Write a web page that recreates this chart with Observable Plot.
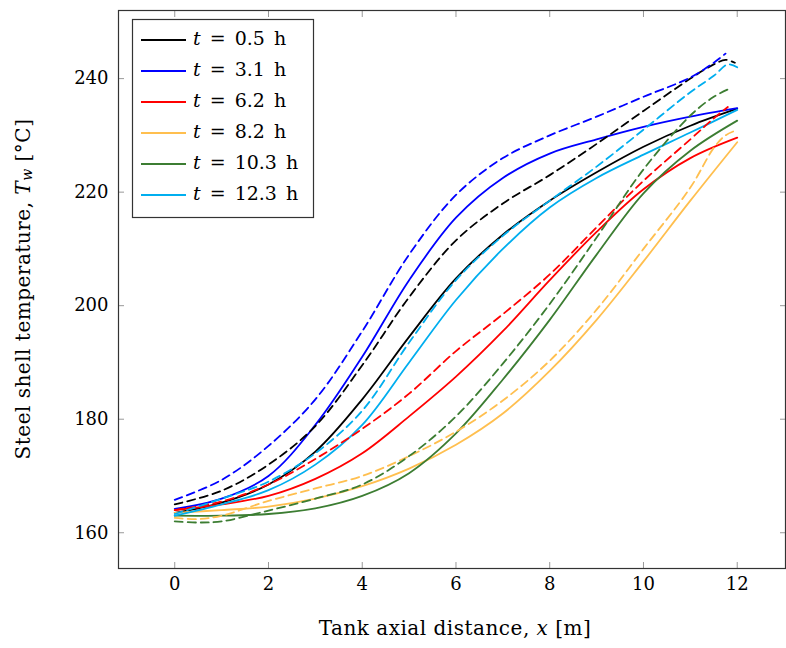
<!DOCTYPE html>
<html>
<head>
<meta charset="utf-8">
<script src="https://cdn.jsdelivr.net/npm/d3@7"></script>
<script src="https://cdn.jsdelivr.net/npm/@observablehq/plot@0.6"></script>
<style>
  html, body { margin: 0; padding: 0; background: #fff; }
  #chart { width: 786px; height: 648px; }
</style>
</head>
<body>
<div id="chart"></div>
<script>
// ---- data ----
const times = ["0.5", "3.1", "6.2", "8.2", "10.3", "12.3"];
const colors = ["#000000", "#0000ff", "#ff0000", "#ffbf4f", "#3c7d32", "#00aeef"];

const xSolid = [0, 1, 2, 3, 4, 5, 6, 7, 8, 9, 10, 11, 12];
const solid_05  = [163.5, 165.3, 168.5, 174.3, 183.5, 194.5, 204.8, 212.5, 218.5, 223.5, 228.0, 231.7, 234.7];
const solid_31  = [164.2, 166.0, 170.0, 179.0, 191.0, 204.5, 215.5, 222.5, 226.8, 229.3, 231.5, 233.3, 234.8];
const solid_62  = [164.0, 165.0, 166.5, 169.5, 174.0, 180.5, 187.5, 195.5, 204.5, 213.0, 220.5, 226.0, 229.6];
const solid_82  = [163.5, 164.0, 164.6, 166.0, 168.2, 171.3, 175.5, 181.0, 188.5, 197.5, 207.8, 218.5, 228.8];
const solid_103 = [163.0, 163.0, 163.3, 164.3, 166.5, 170.5, 177.5, 187.0, 197.5, 209.0, 219.8, 227.3, 232.6];
const solid_123 = [163.0, 165.0, 167.5, 172.0, 179.0, 190.0, 201.0, 210.0, 217.3, 222.5, 226.6, 230.5, 234.5];

const xDash_05  = [0, 1, 2, 3, 4, 5, 6, 7, 8, 9, 10, 11, 11.5, 11.75, 11.95];
const dash_05   = [165.0, 167.4, 172.0, 178.8, 189.5, 201.5, 211.5, 218.0, 223.0, 228.5, 234.3, 240.0, 242.5, 243.3, 242.8];
const xDash_31  = [0, 1, 2, 3, 4, 5, 6, 7, 8, 9, 10, 11, 11.5, 11.75];
const dash_31   = [165.8, 169.3, 175.3, 183.5, 195.5, 209.0, 219.5, 226.0, 230.0, 233.3, 236.8, 240.2, 242.8, 244.4];
const xDash_62  = [0, 1, 2, 3, 4, 5, 6, 7, 8, 9, 10, 11, 11.5, 11.8];
const dash_62   = [164.0, 165.5, 168.5, 173.0, 178.3, 184.5, 192.0, 198.5, 205.5, 213.8, 222.0, 229.3, 233.0, 235.0];
const xDash_82  = [0, 0.5, 1, 2, 3, 4, 5, 6, 7, 8, 9, 10, 11, 11.5, 11.75, 11.95];
const dash_82   = [162.6, 162.4, 163.0, 165.6, 167.8, 170.0, 173.5, 177.8, 183.3, 190.3, 199.3, 210.0, 220.8, 227.8, 230.0, 230.8];
const xDash_103 = [0, 0.5, 1, 2, 3, 4, 5, 6, 7, 8, 9, 10, 11, 11.5, 11.85];
const dash_103  = [162.0, 161.8, 162.0, 163.9, 166.0, 168.5, 173.5, 180.5, 189.8, 200.3, 212.0, 224.0, 233.5, 236.8, 238.3];
const xDash_123 = [0, 1, 2, 3, 4, 5, 6, 7, 8, 9, 10, 11, 11.5, 11.8, 12];
const dash_123  = [163.3, 166.0, 169.0, 174.0, 181.5, 193.5, 204.5, 212.3, 218.5, 224.5, 231.0, 237.6, 240.5, 242.5, 242.0];

const xTicks = [0, 2, 4, 6, 8, 10, 12];
const yTicks = [160, 180, 200, 220, 240];
const xDomain = [-1.2, 13.03];
const yDomain = [153.7, 252];

// ---- build series ----
const solids = [solid_05, solid_31, solid_62, solid_82, solid_103, solid_123];
const dashX = [xDash_05, xDash_31, xDash_62, xDash_82, xDash_103, xDash_123];
const dashes = [dash_05, dash_31, dash_62, dash_82, dash_103, dash_123];
const toRows = (xs, ys) => xs.map((x, i) => ({x, T: ys[i]}));

const lineMarks = [];
solids.forEach((ys, i) => {
  lineMarks.push(Plot.line(toRows(xSolid, ys), {x: "x", y: "T", stroke: colors[i], strokeWidth: 1.8, curve: "catmull-rom"}));
});
dashes.forEach((ys, i) => {
  lineMarks.push(Plot.line(toRows(dashX[i], ys), {x: "x", y: "T", stroke: colors[i], strokeWidth: 1.8, strokeDasharray: "8,5", curve: "catmull-rom"}));
});

const plot = Plot.plot({
  width: 786,
  height: 648,
  marginLeft: 118,
  marginRight: 1,
  marginTop: 10,
  marginBottom: 80,
  x: {domain: xDomain},
  y: {domain: yDomain},
  style: {fontFamily: "'DejaVu Serif', serif", fontSize: "18px", color: "#000", background: "#fff", overflow: "visible"},
  marks: [
    Plot.axisX({ticks: xTicks, anchor: "bottom", tickSize: 0, tickPadding: 9, label: null, fontSize: 18}),
    Plot.axisY({ticks: yTicks, anchor: "left", tickSize: 0, tickPadding: 10, label: null, fontSize: 18}),
    Plot.axisX({ticks: xTicks, anchor: "bottom", tickSize: -6, tickFormat: () => "", label: null, stroke: "#999"}),
    Plot.axisX({ticks: xTicks, anchor: "top", tickSize: -6, tickFormat: () => "", label: null, stroke: "#999"}),
    Plot.axisY({ticks: yTicks, anchor: "left", tickSize: -6, tickFormat: () => "", label: null, stroke: "#999"}),
    Plot.axisY({ticks: yTicks, anchor: "right", tickSize: -6, tickFormat: () => "", label: null, stroke: "#999"}),
    ...lineMarks,
    Plot.frame({stroke: "#333", strokeWidth: 1.2})
  ]
});
document.getElementById("chart").appendChild(plot);

// ---- axis titles and legend (real text) ----
const svg = d3.select(plot);
const font = "'DejaVu Serif', serif";

const yl = svg.append("text")
  .attr("transform", "translate(24,289) rotate(-90)")
  .attr("text-anchor", "middle")
  .attr("dominant-baseline", "middle")
  .attr("letter-spacing", 0.5)
  .attr("font-family", font).attr("font-size", 20).attr("fill", "#000");
yl.append("tspan").text("Steel shell temperature, ");
yl.append("tspan").attr("font-style", "italic").text("T");
yl.append("tspan").attr("font-style", "italic").attr("font-size", 14).attr("dy", 4).text("w");
yl.append("tspan").attr("dy", -4).text(" [°C]");

const xl = svg.append("text")
  .attr("x", 455).attr("y", 629)
  .attr("text-anchor", "middle")
  .attr("dominant-baseline", "middle")
  .attr("letter-spacing", 0.5)
  .attr("font-family", font).attr("font-size", 20).attr("fill", "#000");
xl.append("tspan").text("Tank axial distance, ");
xl.append("tspan").attr("font-style", "italic").text("x");
xl.append("tspan").text(" [m]");

const lg = svg.append("g");
lg.append("rect").attr("x", 132.5).attr("y", 19.5).attr("width", 181).attr("height", 198)
  .attr("fill", "#fff").attr("stroke", "#333").attr("stroke-width", 1.2);
times.forEach((t, i) => {
  const cy = 40 + i * 31;
  lg.append("line").attr("x1", 141).attr("x2", 186).attr("y1", cy).attr("y2", cy)
    .attr("stroke", colors[i]).attr("stroke-width", 1.8);
  const tx = lg.append("text").attr("x", 193).attr("y", cy)
    .attr("text-anchor", "start")
    .attr("dominant-baseline", "middle")
    .attr("font-family", font).attr("font-size", 19).attr("fill", "#000")
    .attr("word-spacing", 3);
  tx.append("tspan").attr("font-style", "italic").text("t");
  tx.append("tspan").text(" = " + t + " h");
});
</script>
</body>
</html>
